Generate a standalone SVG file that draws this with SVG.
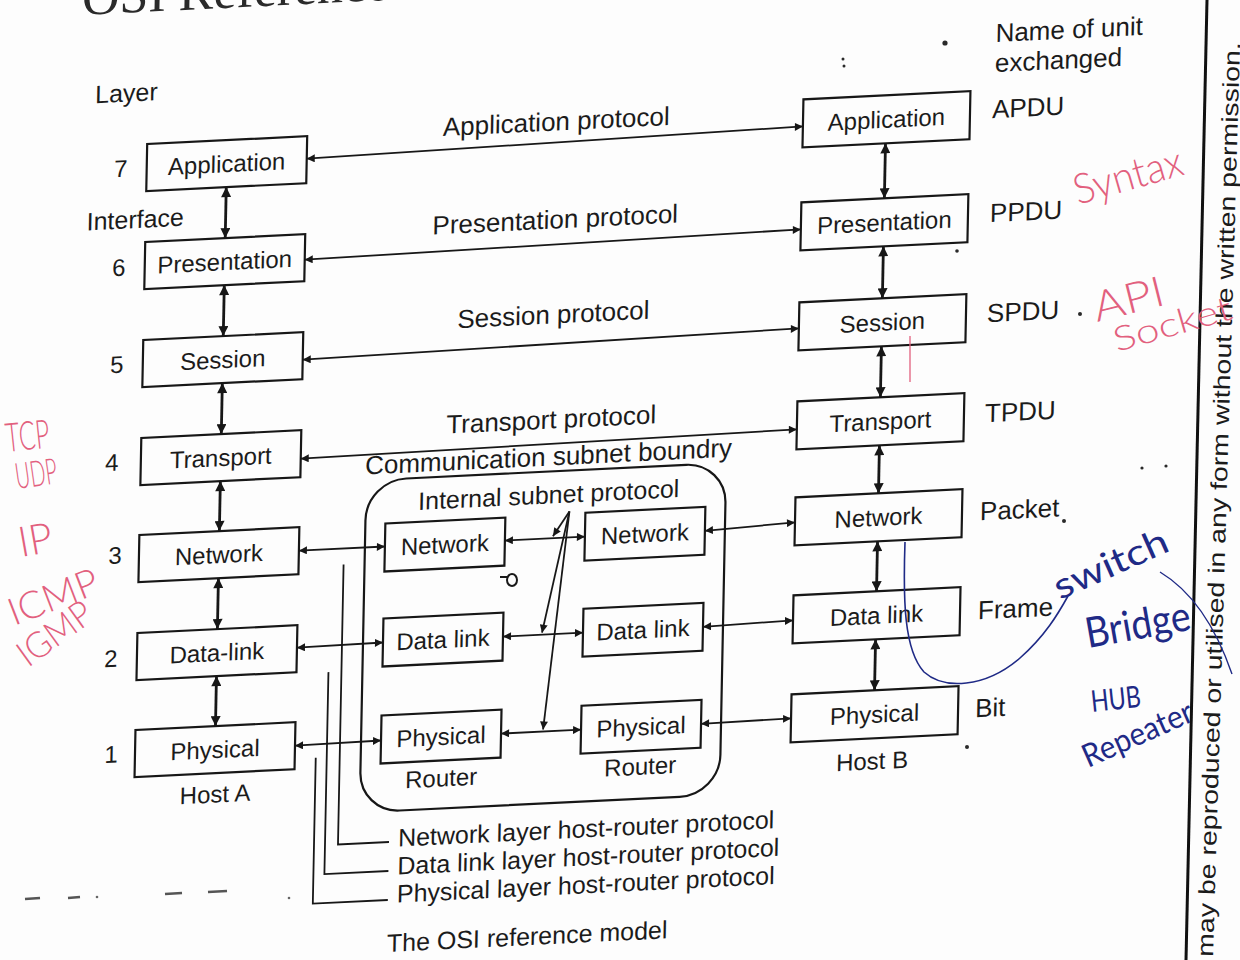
<svg xmlns="http://www.w3.org/2000/svg" width="1240" height="960" viewBox="0 0 1240 960">
  <style>
    .box { fill: none; stroke: #171717; stroke-width: 2.2; }
    .t { font-family: "Liberation Sans", Arial, sans-serif; fill: #1b1b1b; }
    .b24 { font-size: 24px; text-anchor: middle; }
    .p26 { font-size: 26px; text-anchor: middle; }
    .u26 { font-size: 26px; }
    .n24 { font-size: 24px; text-anchor: middle; }
    .lg { font-size: 25px; }
    .ln { stroke: #171717; fill: none; stroke-width: 1.8; }
    .dbl { marker-start: url(#ah); marker-end: url(#ah); }
    .one { marker-end: url(#ah); }
    .v { stroke-width: 2.8; marker-start: url(#av); marker-end: url(#av); }
    .pink { font-family: "Lato", "Open Sans", sans-serif; font-weight: 300; fill: #e2607e; }
    .blue { font-family: "Lato", "Open Sans", sans-serif; font-weight: 400; fill: #1f2a86; }
    .speck { fill: #2a2a2a; }
  </style>
  <defs>
    <marker id="ah" viewBox="0 0 10 10" refX="10" refY="5" markerWidth="10" markerHeight="8" markerUnits="userSpaceOnUse" orient="auto-start-reverse">
      <path d="M0,0 L10,5 L0,10 z" fill="#171717"/>
    </marker>
    <marker id="av" viewBox="0 0 10 10" refX="10" refY="5" markerWidth="11" markerHeight="10" markerUnits="userSpaceOnUse" orient="auto-start-reverse">
      <path d="M0,0 L10,5 L0,10 z" fill="#171717"/>
    </marker>
  </defs>

  <rect width="1240" height="960" fill="#fdfdfd"/>

  <!-- page content, sheared slightly as the page lies -->
  <g transform="matrix(1 -0.049 -0.02 1 9.6 30.4)">
    <text x="72" y="-12" style="font-family:'Liberation Serif',serif;font-size:52px;fill:#2a2a2a">OSI Reference Model</text>

    <text class="t" x="87" y="77" style="font-size:25px">Layer</text>
    <text class="t" x="81" y="204" style="font-size:25px">Interface</text>

    <!-- layer numbers -->
    <g id="layer-numbers">
      <text class="t n24" x="114" y="152">7</text>
      <text class="t n24" x="114" y="251">6</text>
      <text class="t n24" x="114" y="348">5</text>
      <text class="t n24" x="111" y="446">4</text>
      <text class="t n24" x="116" y="539">3</text>
      <text class="t n24" x="114" y="642">2</text>
      <text class="t n24" x="116" y="738">1</text>
    </g>

    <!-- Host A stack -->
    <g id="a-application"><rect class="box" x="140" y="120.5" width="160" height="47"/><text class="t b24" x="220" y="152.5">Application</text></g>
    <g id="a-presentation"><rect class="box" x="140" y="218.5" width="160" height="47"/><text class="t b24" x="220" y="250.5">Presentation</text></g>
    <g id="a-session"><rect class="box" x="140" y="316.5" width="160" height="47"/><text class="t b24" x="220" y="348.5">Session</text></g>
    <g id="a-transport"><rect class="box" x="140" y="414.5" width="160" height="47"/><text class="t b24" x="220" y="446.5">Transport</text></g>
    <g id="a-network"><rect class="box" x="140" y="511.5" width="160" height="47"/><text class="t b24" x="220" y="543.5">Network</text></g>
    <g id="a-datalink"><rect class="box" x="140" y="609.5" width="160" height="47"/><text class="t b24" x="220" y="641.5">Data-link</text></g>
    <g id="a-physical"><rect class="box" x="140" y="706.5" width="160" height="47"/><text class="t b24" x="220" y="738.5">Physical</text></g>
    <text class="t b24" x="221" y="783">Host A</text>

    <!-- Host B stack -->
    <g id="b-application"><rect class="box" x="796" y="108" width="167" height="48"/><text class="t b24" x="879.5" y="140.5">Application</text></g>
    <g id="b-presentation"><rect class="box" x="796" y="211" width="167" height="48"/><text class="t b24" x="879.5" y="243.5">Presentation</text></g>
    <g id="b-session"><rect class="box" x="796" y="311" width="167" height="48"/><text class="t b24" x="879.5" y="343.5">Session</text></g>
    <g id="b-transport"><rect class="box" x="796" y="410" width="167" height="48"/><text class="t b24" x="879.5" y="442.5">Transport</text></g>
    <g id="b-network"><rect class="box" x="796" y="506" width="167" height="48"/><text class="t b24" x="879.5" y="538.5">Network</text></g>
    <g id="b-datalink"><rect class="box" x="796" y="604" width="167" height="48"/><text class="t b24" x="879.5" y="636.5">Data link</text></g>
    <g id="b-physical"><rect class="box" x="796" y="703" width="167" height="48"/><text class="t b24" x="879.5" y="735.5">Physical</text></g>
    <text class="t b24" x="878" y="782">Host B</text>

    <!-- unit names -->
    <g id="units">
      <text class="t u26" x="987" y="60">Name of unit</text>
      <text class="t u26" x="987" y="90">exchanged</text>
      <text class="t u26" x="985" y="136">APDU</text>
      <text class="t u26" x="985" y="240">PPDU</text>
      <text class="t u26" x="984" y="340">SPDU</text>
      <text class="t u26" x="984" y="440">TPDU</text>
      <text class="t u26" x="981" y="538">Packet</text>
      <text class="t u26" x="981" y="637">Frame</text>
      <text class="t u26" x="980" y="735">Bit</text>
    </g>

    <!-- communication subnet -->
    <g id="subnet">
      <rect class="box" x="366" y="468" width="360" height="332" rx="40"/>
      <text class="t p26" x="548" y="462">Communication subnet boundry</text>
      <text class="t" x="549" y="500" style="font-size:25px;text-anchor:middle">Internal subnet protocol</text>
    </g>
    <g id="r1-network"><rect class="box" x="386" y="512" width="120" height="48"/><text class="t b24" x="446" y="544.5">Network</text></g>
    <g id="r1-datalink"><rect class="box" x="386" y="607" width="120" height="48"/><text class="t b24" x="446" y="639.5">Data link</text></g>
    <g id="r1-physical"><rect class="box" x="386" y="704" width="120" height="48"/><text class="t b24" x="446" y="736.5">Physical</text></g>
    <text class="t b24" x="447" y="778">Router</text>
    <g id="r2-network"><rect class="box" x="586" y="511" width="120" height="48"/><text class="t b24" x="646" y="543.5">Network</text></g>
    <g id="r2-datalink"><rect class="box" x="586" y="607" width="120" height="48"/><text class="t b24" x="646" y="639.5">Data link</text></g>
    <g id="r2-physical"><rect class="box" x="586" y="704" width="120" height="48"/><text class="t b24" x="646" y="736.5">Physical</text></g>
    <text class="t b24" x="646" y="776">Router</text>

    <!-- protocol labels -->
    <text class="t p26" x="549" y="127">Application protocol</text>
    <text class="t p26" x="550" y="225">Presentation protocol</text>
    <text class="t p26" x="550" y="320">Session protocol</text>
    <text class="t p26" x="550" y="425">Transport protocol</text>

    <!-- legend -->
    <text class="t lg" x="405" y="836">Network layer host-router protocol</text>
    <text class="t lg" x="405" y="864">Data link layer host-router protocol</text>
    <text class="t lg" x="405" y="892">Physical layer host-router protocol</text>
    <text class="t lg" x="396" y="941">The OSI reference model</text>

    <g id="connectors">
      <!-- peer protocols -->
      <line class="ln dbl" x1="300" y1="143" x2="796" y2="135"/>
      <line class="ln dbl" x1="300" y1="244" x2="796" y2="238"/>
      <line class="ln dbl" x1="300" y1="344" x2="796" y2="337"/>
      <line class="ln dbl" x1="300" y1="443" x2="796" y2="438"/>
      <!-- Host A interfaces -->
      <line class="ln v" x1="220" y1="167.5" x2="220" y2="218.5"/>
      <line class="ln v" x1="220" y1="265.5" x2="220" y2="316.5"/>
      <line class="ln v" x1="220" y1="363.5" x2="220" y2="414.5"/>
      <line class="ln v" x1="220" y1="461.5" x2="220" y2="511.5"/>
      <line class="ln v" x1="220" y1="558.5" x2="220" y2="609.5"/>
      <line class="ln v" x1="220" y1="656.5" x2="220" y2="706.5"/>
      <!-- Host B interfaces -->
      <line class="ln v" x1="879" y1="156" x2="879" y2="211"/>
      <line class="ln v" x1="879" y1="259" x2="879" y2="311"/>
      <line class="ln v" x1="879" y1="359" x2="879" y2="410"/>
      <line class="ln v" x1="879" y1="458" x2="879" y2="506"/>
      <line class="ln v" x1="879" y1="554" x2="879" y2="604"/>
      <line class="ln v" x1="879" y1="652" x2="879" y2="703"/>
      <!-- host to router -->
      <line class="ln dbl" x1="300" y1="535" x2="386" y2="535"/>
      <line class="ln dbl" x1="300" y1="632" x2="386" y2="631"/>
      <line class="ln dbl" x1="300" y1="730" x2="386" y2="729"/>
      <!-- router to router -->
      <line class="ln dbl" x1="506" y1="535" x2="586" y2="535"/>
      <line class="ln dbl" x1="506" y1="631" x2="586" y2="631"/>
      <line class="ln dbl" x1="506" y1="728" x2="586" y2="728"/>
      <!-- router to host -->
      <line class="ln dbl" x1="706" y1="535" x2="796" y2="531"/>
      <line class="ln dbl" x1="706" y1="631" x2="796" y2="629"/>
      <line class="ln dbl" x1="706" y1="728" x2="796" y2="727"/>
      <!-- internal subnet protocol pointers -->
      <line class="ln one" x1="570" y1="509" x2="554" y2="533"/>
      <line class="ln one" x1="570" y1="509" x2="545" y2="629"/>
      <line class="ln one" x1="570" y1="509" x2="548" y2="726"/>
      <!-- legend brackets -->
      <path class="ln" d="M345,551 V831 H396"/>
      <path class="ln" d="M332,658 V860 H396"/>
      <path class="ln" d="M321,743 V889 H396"/>
    </g>
  </g>

  <!-- margin rule and copyright line -->
  <line x1="1207" y1="0" x2="1186" y2="960" stroke="#111" stroke-width="3"/>
  <text class="t" transform="translate(1213,957) rotate(-88.3)" style="font-size:23px" textLength="915" lengthAdjust="spacingAndGlyphs">may be reproduced or utilised in any form without the written permission.</text>

  <!-- pen notes -->
  <g id="notes-red">
    <text class="pink" transform="translate(7,452) rotate(-6)" style="font-size:40px" textLength="44" lengthAdjust="spacingAndGlyphs">TCP</text>
    <text class="pink" transform="translate(17,489) rotate(-8)" style="font-size:36px" textLength="42" lengthAdjust="spacingAndGlyphs">UDP</text>
    <text class="pink" transform="translate(21,557) rotate(-10)" style="font-size:42px" textLength="34" lengthAdjust="spacingAndGlyphs">IP</text>
    <text class="pink" transform="translate(14,626) rotate(-21)" style="font-size:38px" textLength="94" lengthAdjust="spacingAndGlyphs">ICMP</text>
    <text class="pink" transform="translate(28,668) rotate(-36)" style="font-size:36px" textLength="84" lengthAdjust="spacingAndGlyphs">IGMP</text>
    <text class="pink" transform="translate(1078,205) rotate(-16)" style="font-size:42px" textLength="112" lengthAdjust="spacingAndGlyphs">Syntax</text>
    <text class="pink" transform="translate(1097,322) rotate(-14)" style="font-size:42px" textLength="72" lengthAdjust="spacingAndGlyphs">API</text>
    <text class="pink" transform="translate(1117,352) rotate(-16)" style="font-size:34px" textLength="122" lengthAdjust="spacingAndGlyphs">Socket</text>
    <line x1="910" y1="336" x2="910" y2="382" stroke="#e2607e" stroke-width="1.3"/>
  </g>
  <g id="notes-blue">
    <path d="M905,542 C903,600 904,650 924,672 C944,690 985,688 1020,658 C1045,636 1058,614 1068,596" fill="none" stroke="#1f2a86" stroke-width="1.6"/>
    <path d="M1160,572 C1190,590 1214,622 1232,674" fill="none" stroke="#1f2a86" stroke-width="1.4"/>
    <text class="blue" transform="translate(1060,600) rotate(-24)" style="font-size:36px" textLength="122" lengthAdjust="spacingAndGlyphs">switch</text>
    <text class="blue" transform="translate(1088,648) rotate(-10)" style="font-size:42px" textLength="106" lengthAdjust="spacingAndGlyphs">Bridge</text>
    <text class="blue" transform="translate(1092,712) rotate(-6)" style="font-size:30px" textLength="50" lengthAdjust="spacingAndGlyphs">HUB</text>
    <text class="blue" transform="translate(1088,768) rotate(-24)" style="font-size:32px" textLength="118" lengthAdjust="spacingAndGlyphs">Repeater</text>
  </g>

  <!-- stray marks on the sheet -->
  <g id="marks">
    <circle class="speck" cx="945" cy="43" r="2.6"/>
    <circle class="speck" cx="843" cy="59" r="1.5"/>
    <circle class="speck" cx="844" cy="66" r="1.5"/>
    <circle class="speck" cx="1080" cy="314" r="2"/>
    <circle class="speck" cx="1064" cy="521" r="2"/>
    <circle class="speck" cx="957" cy="251" r="1.8"/>
    <circle class="speck" cx="967" cy="747" r="2"/>
    <circle class="speck" cx="1142" cy="468" r="1.6"/>
    <circle class="speck" cx="1166" cy="466" r="1.6"/>
    <ellipse cx="512" cy="580" rx="5" ry="6" fill="none" stroke="#1a1a1a" stroke-width="2"/>
    <line x1="500" y1="577" x2="507" y2="577" stroke="#1a1a1a" stroke-width="2"/>
    <g stroke="#555" stroke-width="2.5">
      <line x1="25" y1="899" x2="40" y2="898"/>
      <line x1="68" y1="898" x2="80" y2="897"/>
      <line x1="165" y1="894" x2="182" y2="893"/>
      <line x1="208" y1="892" x2="227" y2="891"/>
    </g>
    <circle cx="97" cy="897" r="1.3" fill="#666"/>
    <circle cx="289" cy="898" r="1.3" fill="#666"/>
  </g>
</svg>
